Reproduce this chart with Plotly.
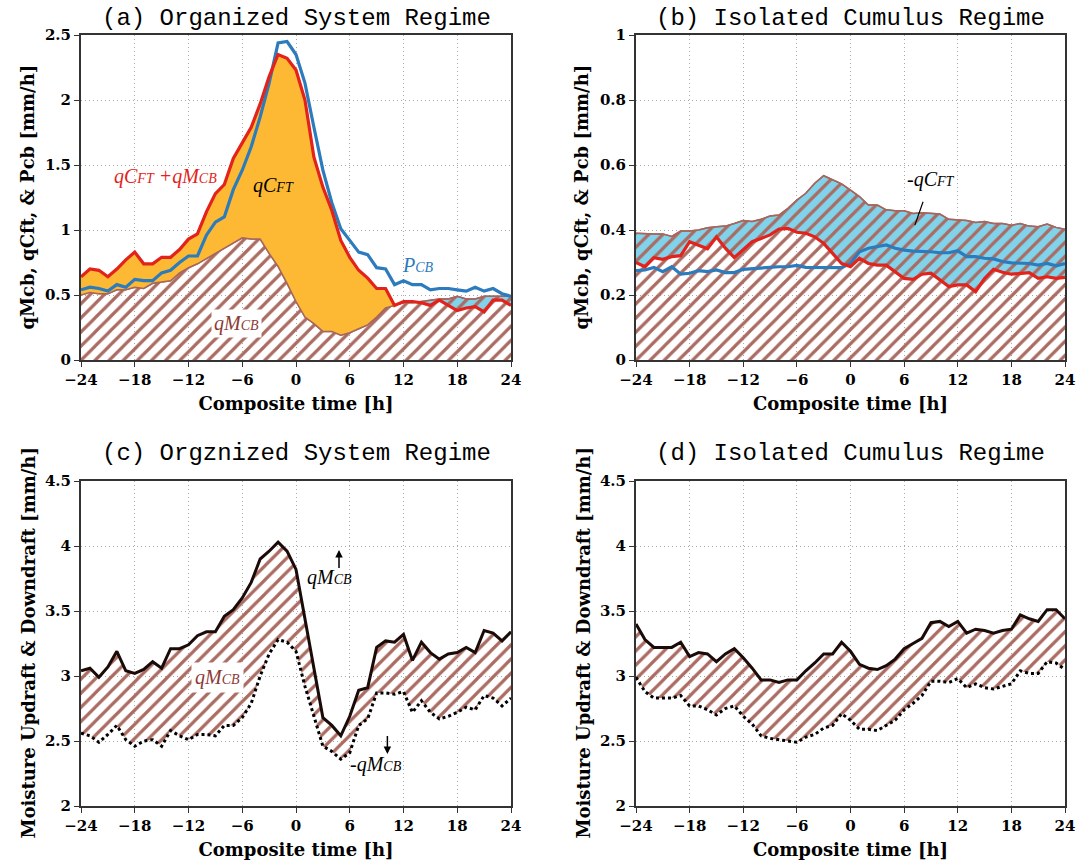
import plotly.graph_objects as go
import numpy as np

hours = list(range(-24, 25))

# Panel (a) Organized system regime
a_total = [0.64, 0.70, 0.69, 0.64, 0.70, 0.77, 0.83, 0.74, 0.74, 0.79, 0.79, 0.85, 0.93, 0.97,
           1.14, 1.28, 1.35, 1.55, 1.67, 1.79, 1.97, 2.18, 2.35, 2.32, 2.23, 2.00, 1.56, 1.33,
           1.15, 0.92, 0.79, 0.69, 0.63, 0.55, 0.55, 0.42, 0.45, 0.45, 0.44, 0.42, 0.46, 0.42,
           0.38, 0.40, 0.41, 0.37, 0.46, 0.46, 0.42]
a_pcb = [0.54, 0.56, 0.55, 0.53, 0.58, 0.56, 0.62, 0.61, 0.61, 0.67, 0.69, 0.75, 0.80, 0.80,
         0.96, 1.06, 1.10, 1.31, 1.46, 1.64, 1.87, 2.13, 2.44, 2.45, 2.35, 2.13, 1.79, 1.46,
         1.21, 1.01, 0.92, 0.83, 0.81, 0.71, 0.70, 0.58, 0.61, 0.58, 0.58, 0.54, 0.55, 0.55,
         0.54, 0.53, 0.56, 0.53, 0.55, 0.51, 0.49]
a_qmcb = [0.50, 0.52, 0.51, 0.51, 0.54, 0.54, 0.56, 0.55, 0.59, 0.60, 0.61, 0.67, 0.71, 0.74,
          0.78, 0.82, 0.86, 0.90, 0.94, 0.93, 0.93, 0.82, 0.72, 0.59, 0.45, 0.33, 0.28, 0.22,
          0.22, 0.19, 0.21, 0.24, 0.27, 0.33, 0.40, 0.42, 0.44, 0.44, 0.45, 0.46, 0.47, 0.47,
          0.49, 0.47, 0.47, 0.49, 0.49, 0.49, 0.49]

# Panel (b) Isolated cumulus regime
b_total = [0.300, 0.287, 0.315, 0.310, 0.318, 0.321, 0.364, 0.354, 0.342, 0.379, 0.344, 0.315,
           0.338, 0.364, 0.374, 0.385, 0.403, 0.405, 0.393, 0.390, 0.379, 0.359, 0.328, 0.297,
           0.287, 0.313, 0.297, 0.292, 0.292, 0.272, 0.251, 0.248, 0.264, 0.267, 0.246, 0.226,
           0.231, 0.231, 0.210, 0.251, 0.279, 0.270, 0.264, 0.267, 0.269, 0.251, 0.256, 0.251,
           0.254]
b_pcb = [0.275, 0.277, 0.285, 0.272, 0.287, 0.264, 0.267, 0.275, 0.272, 0.277, 0.269, 0.269,
         0.279, 0.281, 0.285, 0.287, 0.287, 0.287, 0.291, 0.285, 0.285, 0.285, 0.285, 0.284,
         0.297, 0.333, 0.344, 0.349, 0.354, 0.344, 0.338, 0.335, 0.335, 0.333, 0.330, 0.330,
         0.336, 0.318, 0.318, 0.313, 0.311, 0.303, 0.299, 0.299, 0.297, 0.292, 0.297, 0.290,
         0.297]
b_qmcb = [0.390, 0.388, 0.388, 0.388, 0.380, 0.397, 0.397, 0.400, 0.407, 0.410, 0.412, 0.420,
          0.429, 0.426, 0.433, 0.443, 0.446, 0.467, 0.492, 0.513, 0.544, 0.567, 0.554, 0.542,
          0.523, 0.503, 0.477, 0.477, 0.462, 0.459, 0.459, 0.451, 0.453, 0.451, 0.449, 0.433,
          0.431, 0.429, 0.423, 0.426, 0.420, 0.420, 0.415, 0.420, 0.412, 0.410, 0.418, 0.408,
          0.402]

# Panel (c) Organized: updraft (qMcb up) and downdraft (-qMcb down)
c_up = [3.04, 3.06, 2.99, 3.07, 3.19, 3.04, 3.02, 3.05, 3.11, 3.06, 3.21, 3.21, 3.24, 3.31,
        3.34, 3.34, 3.46, 3.51, 3.60, 3.72, 3.90, 3.96, 4.03, 3.96, 3.82, 3.44, 3.05, 2.68,
        2.62, 2.54, 2.69, 2.89, 2.91, 3.22, 3.27, 3.26, 3.32, 3.12, 3.26, 3.18, 3.13, 3.17,
        3.18, 3.22, 3.18, 3.35, 3.33, 3.27, 3.34]
c_down = [2.56, 2.54, 2.49, 2.55, 2.62, 2.51, 2.46, 2.50, 2.51, 2.46, 2.58, 2.54, 2.51, 2.55,
          2.55, 2.54, 2.62, 2.62, 2.68, 2.79, 3.00, 3.17, 3.28, 3.26, 3.19, 2.92, 2.69, 2.46,
          2.42, 2.36, 2.41, 2.62, 2.67, 2.87, 2.87, 2.86, 2.88, 2.72, 2.81, 2.72, 2.67, 2.69,
          2.72, 2.76, 2.74, 2.85, 2.83, 2.77, 2.83]

# Panel (d) Isolated cumulus
d_up = [3.40, 3.28, 3.22, 3.22, 3.22, 3.26, 3.15, 3.18, 3.17, 3.11, 3.17, 3.21, 3.14, 3.06,
        2.97, 2.97, 2.95, 2.97, 2.97, 3.04, 3.10, 3.17, 3.17, 3.26, 3.19, 3.09, 3.06, 3.05,
        3.08, 3.13, 3.21, 3.25, 3.29, 3.41, 3.42, 3.38, 3.42, 3.33, 3.36, 3.35, 3.33, 3.35,
        3.36, 3.47, 3.44, 3.42, 3.51, 3.51, 3.44]
d_down = [2.99, 2.88, 2.83, 2.83, 2.83, 2.85, 2.77, 2.77, 2.74, 2.70, 2.75, 2.77, 2.69, 2.63,
          2.54, 2.52, 2.51, 2.50, 2.49, 2.53, 2.55, 2.60, 2.62, 2.71, 2.66, 2.59, 2.59, 2.58,
          2.62, 2.66, 2.74, 2.79, 2.85, 2.96, 2.96, 2.95, 2.98, 2.91, 2.94, 2.91, 2.90, 2.92,
          2.94, 3.04, 3.02, 3.02, 3.11, 3.10, 3.05]

x_ticks = [-24, -18, -12, -6, 0, 6, 12, 18, 24]
panel_titles = ["(a) Organized System Regime", "(b) Isolated Cumulus Regime",
                "(c) Orgznized System Regime", "(d) Isolated Cumulus Regime"]
ylabel_top = "qMcb, qCft, & Pcb [mm/h]"
ylabel_bot = "Moisture Updraft & Downdraft [mm/h]"
xlabel = "Composite time [h]"

RED = "#e3231b"
BLUE = "#2b7bbd"
ORANGE = "#fdb933"
LBLUE = "#80d3ea"
BROWN = "#a5665e"
HATCH = dict(shape="/", fgcolor="#aa6b62", size=10, solidity=0.32, fillmode="replace")

fig = go.Figure()


def top_panel(xa, ya, total, pcb, qmcb):
    total = np.array(total)
    qmcb = np.array(qmcb)
    lo = np.minimum(total, qmcb)
    hi = np.maximum(total, qmcb)
    # light blue where total < qMcb
    fig.add_trace(go.Scatter(x=hours, y=lo, mode="lines", line=dict(width=0),
                             xaxis=xa, yaxis=ya, hoverinfo="skip"))
    fig.add_trace(go.Scatter(x=hours, y=qmcb, mode="lines", line=dict(width=0),
                             fill="tonexty", fillcolor=LBLUE, xaxis=xa, yaxis=ya))
    # hatched qMcb to zero
    fig.add_trace(go.Scatter(x=hours, y=qmcb, mode="lines", line=dict(width=1.5, color=BROWN),
                             fill="tozeroy", fillpattern=HATCH, fillcolor="rgba(0,0,0,0)",
                             xaxis=xa, yaxis=ya))
    # orange where total > qMcb
    fig.add_trace(go.Scatter(x=hours, y=qmcb, mode="lines", line=dict(width=0),
                             xaxis=xa, yaxis=ya, hoverinfo="skip"))
    fig.add_trace(go.Scatter(x=hours, y=hi, mode="lines", line=dict(width=0),
                             fill="tonexty", fillcolor=ORANGE, xaxis=xa, yaxis=ya))
    fig.add_trace(go.Scatter(x=hours, y=qmcb, mode="lines", line=dict(width=1.5, color=BROWN),
                             xaxis=xa, yaxis=ya))
    fig.add_trace(go.Scatter(x=hours, y=pcb, mode="lines", line=dict(width=3.2, color=BLUE),
                             xaxis=xa, yaxis=ya))
    fig.add_trace(go.Scatter(x=hours, y=total, mode="lines", line=dict(width=3.2, color=RED),
                             xaxis=xa, yaxis=ya))


def bottom_panel(xa, ya, up, down):
    fig.add_trace(go.Scatter(x=hours, y=down, mode="lines",
                             line=dict(width=3, color="black", dash="dot"),
                             xaxis=xa, yaxis=ya))
    fig.add_trace(go.Scatter(x=hours, y=up, mode="lines",
                             line=dict(width=3, color="#1a0a08"),
                             fill="tonexty", fillpattern=HATCH, fillcolor="rgba(0,0,0,0)",
                             xaxis=xa, yaxis=ya))


top_panel("x", "y", a_total, a_pcb, a_qmcb)
top_panel("x2", "y2", b_total, b_pcb, b_qmcb)
bottom_panel("x3", "y3", c_up, c_down)
bottom_panel("x4", "y4", d_up, d_down)

W, H = 1091, 863
xdom_l = [81 / W, 511 / W]
xdom_r = [636 / W, 1065 / W]
ydom_t = [1 - 360 / H, 1 - 35 / H]
ydom_b = [1 - 806 / H, 1 - 481 / H]

TICKFONT = dict(family="DejaVu Serif", size=15, color="black", weight="bold")
TITLEFONT = dict(family="DejaVu Serif", size=18, color="black", weight="bold")
GRIDDASH = "1px,3px"

common_x = dict(range=[-24, 24], tickvals=x_ticks, showgrid=True, gridcolor="#a8a8a8",
                griddash=GRIDDASH, gridwidth=1.2, showline=True, linecolor="#333333",
                linewidth=2, mirror=True, ticks="outside", ticklen=5, tickcolor="#333333",
                tickfont=TICKFONT, zeroline=False, automargin=False,
                title=dict(text=xlabel, font=TITLEFONT, standoff=9))
common_y = dict(showgrid=True, gridcolor="#a8a8a8", griddash=GRIDDASH, gridwidth=1.2,
                showline=True, linecolor="#333333", linewidth=2, mirror=True,
                ticks="outside", ticklen=5, tickcolor="#333333", tickfont=TICKFONT,
                zeroline=False, automargin=False)

fig.update_layout(
    width=W, height=H,
    margin=dict(l=0, r=0, t=0, b=0),
    paper_bgcolor="white", plot_bgcolor="white",
    showlegend=False,
    xaxis=dict(domain=xdom_l, anchor="y", **common_x),
    yaxis=dict(domain=ydom_t, anchor="x", range=[0, 2.5], dtick=0.5, **common_y),
    xaxis2=dict(domain=xdom_r, anchor="y2", **common_x),
    yaxis2=dict(domain=ydom_t, anchor="x2", range=[0, 1], dtick=0.2, **common_y),
    xaxis3=dict(domain=xdom_l, anchor="y3", **common_x),
    yaxis3=dict(domain=ydom_b, anchor="x3", range=[2, 4.5], dtick=0.5, **common_y),
    xaxis4=dict(domain=xdom_r, anchor="y4", **common_x),
    yaxis4=dict(domain=ydom_b, anchor="x4", range=[2, 4.5], dtick=0.5, **common_y),
)

# y-axis titles as rotated annotations
ytitle_pos = [(27, ydom_t, ylabel_top), (581, ydom_t, ylabel_top),
              (28, ydom_b, ylabel_bot), (583, ydom_b, ylabel_bot)]
for px, dom, txt in ytitle_pos:
    fig.add_annotation(text=txt, x=px / W, y=sum(dom) / 2, xref="paper", yref="paper",
                       showarrow=False, textangle=-90, font=TITLEFONT,
                       xanchor="center", yanchor="middle")

TFONT = dict(family="Liberation Mono", size=24, color="black")
centers = [(sum(xdom_l) / 2, 1 - 18 / H), (sum(xdom_r) / 2, 1 - 18 / H),
           (sum(xdom_l) / 2, 1 - 453 / H), (sum(xdom_r) / 2, 1 - 453 / H)]
for t, (cx, cy) in zip(panel_titles, centers):
    fig.add_annotation(text=t, x=cx, y=cy, xref="paper", yref="paper", showarrow=False,
                       font=TFONT, xanchor="center", yanchor="middle")

SERIF = "Liberation Serif"


def lab(main1, sub1, main2=None, sub2=None):
    s = f"<i>{main1}<span style='font-size:14px'>{sub1}</span>"
    if main2:
        s += f" {main2}<span style='font-size:14px'>{sub2}</span>"
    return s + "</i>"


# Panel (a) labels
fig.add_annotation(text=lab("qC", "FT", "+qM", "CB"), x=-14.6, y=1.41, xref="x", yref="y",
                   showarrow=False, font=dict(family=SERIF, size=20, color=RED))
fig.add_annotation(text=lab("qC", "FT"), x=-2.5, y=1.34, xref="x", yref="y",
                   showarrow=False, font=dict(family=SERIF, size=20, color="black"))
fig.add_annotation(text=lab("P", "CB"), x=13.6, y=0.73, xref="x", yref="y",
                   showarrow=False, font=dict(family=SERIF, size=20, color=BLUE))
fig.add_annotation(text=lab("qM", "CB"), x=-6.6, y=0.28, xref="x", yref="y",
                   showarrow=False, bgcolor="white", borderpad=2,
                   font=dict(family=SERIF, size=20, color="#8b3a35"))

# Panel (b) label with pointer
fig.add_annotation(text=lab("-qC", "FT"), x=7.2, y=0.415, xref="x2", yref="y2",
                   ax=9.0, ay=0.556, axref="x2", ayref="y2", showarrow=True, arrowhead=0,
                   arrowwidth=1.2, arrowcolor="black", standoff=0, startstandoff=10,
                   font=dict(family=SERIF, size=20, color="black"))

# Panel (c) labels
fig.add_annotation(text=lab("qM", "CB"), x=3.7, y=3.76, xref="x3", yref="y3",
                   showarrow=False, font=dict(family=SERIF, size=20, color="black"))
fig.add_annotation(text="", x=4.8, y=3.97, ax=4.8, ay=3.82, xref="x3", yref="y3",
                   axref="x3", ayref="y3", showarrow=True, arrowhead=2, arrowsize=1,
                   arrowwidth=1.5, arrowcolor="black")
fig.add_annotation(text=lab("qM", "CB"), x=-8.8, y=2.99, xref="x3", yref="y3",
                   showarrow=False, bgcolor="white", borderpad=3,
                   font=dict(family=SERIF, size=20, color="#8b3a35"))
fig.add_annotation(text=lab("-qM", "CB"), x=8.9, y=2.32, xref="x3", yref="y3",
                   showarrow=False, font=dict(family=SERIF, size=20, color="black"))
fig.add_annotation(text="", x=10.2, y=2.40, ax=10.2, ay=2.55, xref="x3", yref="y3",
                   axref="x3", ayref="y3", showarrow=True, arrowhead=2, arrowsize=1,
                   arrowwidth=1.5, arrowcolor="black")

fig.write_html("out.html")
